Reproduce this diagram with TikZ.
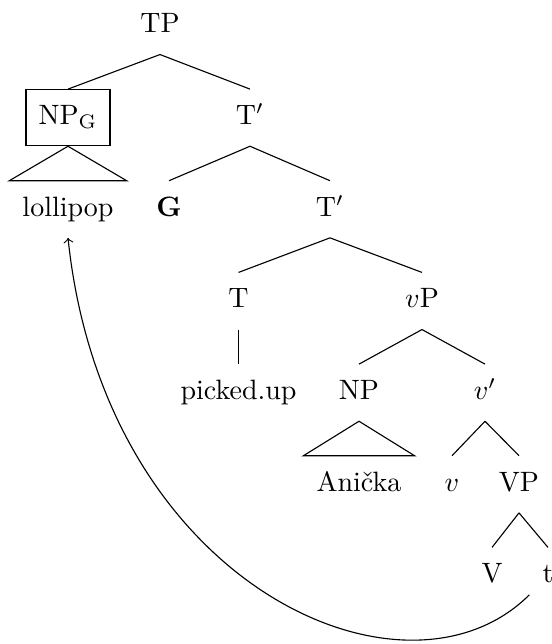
\documentclass[tikz,border=0pt]{standalone}
\usepackage{fontspec}
\usepackage{amsmath}
\usetikzlibrary{calc}

\tikzset{
  lbl/.style={inner xsep=4.5pt, inner ysep=0pt, text height=12.5pt, text depth=7.5pt, anchor=base},
  edge/.style={line width=0.4pt}
}

\begin{document}
\begin{tikzpicture}[x=0.3571pt, y=0.3571pt]
    \useasboundingbox (0,0) rectangle (551,644);
    % levels
    \node[lbl]       (TP)     at (160,611)   {TP};
    \node[lbl, draw] (NPG)    at (68,519.3)  {NP$_{\mathrm{G}}$};
    \node[lbl]       (Tb1)    at (250,519.3) {T$'$};
    \node[lbl]       (lol)    at (68,427.7)  {lollipop};
    \node[lbl]       (G)      at (169,427.7) {\textbf{G}};
    \node[lbl]       (Tb2)    at (330,427.7) {T$'$};
    \node[lbl]       (T)      at (238.5,336) {T};
    \node[lbl]       (vP)     at (422,336)   {$v$P};
    \node[lbl]       (picked) at (238.5,244.3) {picked.up};
    \node[lbl]       (NP)     at (359,244.3) {NP};
    \node[lbl]       (vb)     at (485,244.3) {$v'$};
    \node[lbl]       (Anicka) at (359,152.7) {Anička};
    \node[lbl]       (v)      at (452,152.7) {$v$};
    \node[lbl]       (VP)     at (519,152.7) {VP};
    \node[lbl]       (V)      at (492,61)    {V};
    \node[lbl]       (t)      at (548,61)    {t};
    % branches
    \foreach \m/\d in {TP/NPG, TP/Tb1, Tb1/G, Tb1/Tb2, Tb2/T, Tb2/vP, T/picked,
                       vP/NP, vP/vb, vb/v, vb/VP, VP/V, VP/t}
    {
        \draw[edge] (\m.south) -- (\d.north);
    }
    % roofs
    \draw[edge] (NPG.south) -- (lol.north west) -- (lol.north east) -- cycle;
    \draw[edge] (NP.south) -- (Anicka.north west) -- (Anicka.north east) -- cycle;
    % movement
    \draw[->] ([yshift=3.5pt]t.south west) .. controls +(225:175) and +(-84:350) .. (lol.south);
\end{tikzpicture}
\end{document}
